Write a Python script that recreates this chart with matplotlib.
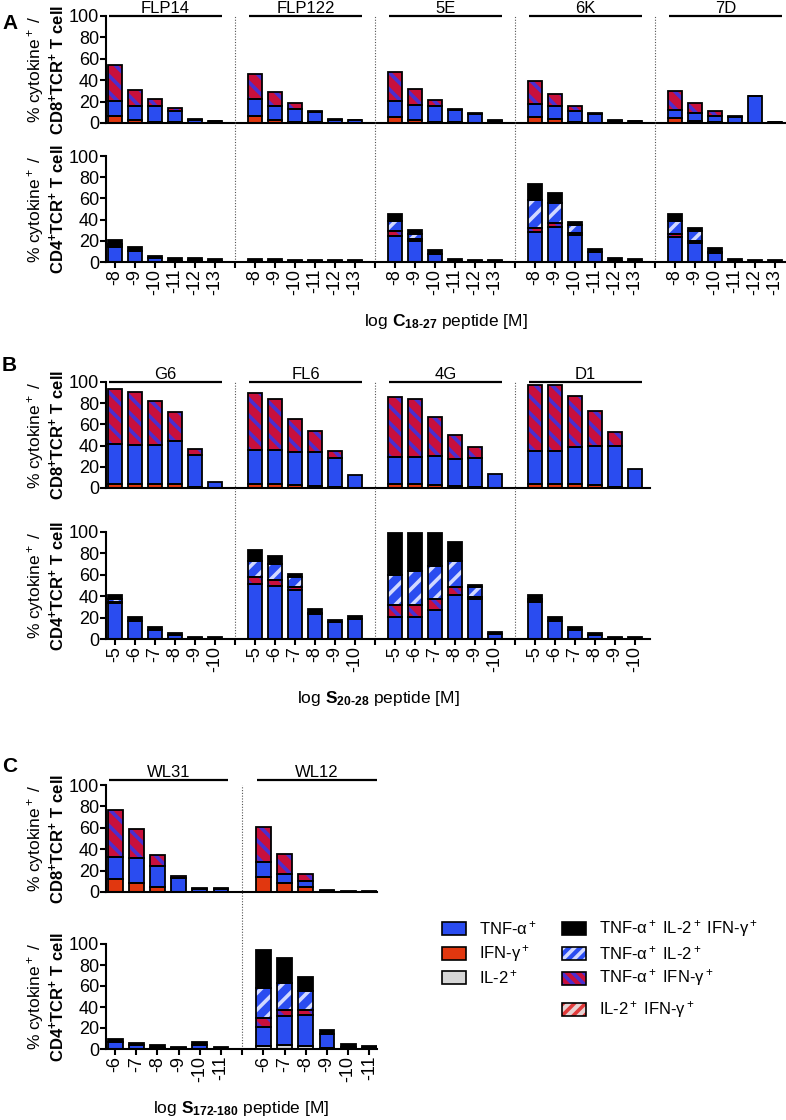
import matplotlib.pyplot as plt
from matplotlib.patches import Rectangle

plt.rcParams['font.family'] = ['Liberation Sans', 'DejaVu Sans']
plt.rcParams['mathtext.fontset'] = 'custom'
plt.rcParams['mathtext.rm'] = 'Liberation Sans'
plt.rcParams['mathtext.it'] = 'Liberation Sans:italic'
plt.rcParams['mathtext.bf'] = 'Liberation Sans:bold'
plt.rcParams['hatch.linewidth'] = 2.6

W, H = 786, 1120
FS = 12
BW = 0.7
LW = 1.3

# ---- panel A: C18-27 peptide ----
a_groups = ["FLP14", "FLP122", "5E", "6K", "7D"]
a_ticks = ["-8", "-9", "-10", "-11", "-12", "-13"]
a_cd8_ifn = [7, 3, 1, 0.5, 0, 0,  7, 3, 1, 0.5, 0, 0,  5.5, 2.5, 1, 0.5, 0, 0,
             6, 3.5, 1, 0, 0, 0,  4.5, 2, 1, 0, 0, 0]
a_cd8_tnf = [14, 12.5, 14.5, 10.5, 3, 2,  15.5, 13, 12, 10, 3, 2.5,  15.5, 14, 14.5, 12, 8, 2,
             12, 12.5, 10.5, 8.5, 2, 1.5,  8, 7, 6, 5.5, 25, 1]
a_cd8_tnf_ifn = [33, 15, 7, 3, 0.7, 0.2,  23.5, 13, 5.5, 0.5, 0.7, 0.5,  27, 15, 6, 0.5, 1, 0.5,
                 21, 11, 4.5, 0.8, 0.8, 0.4,  17, 9.5, 4, 1, 0.5, 0.2]
a_cd4_tnf = [14, 10, 3.5, 1, 1, 1,  0.5, 0.5, 0.5, 0.5, 0.5, 0.5,  25, 20, 7.5, 1, 0.5, 0.5,
             28, 33, 25.5, 9, 1, 0.5,  23.5, 18, 8.5, 0.5, 0.3, 0.3]
a_cd4_tnf_ifn = [1, 0.3, 0, 0, 0.5, 0,  0, 0, 0, 0, 0, 0,  4, 1.5, 0, 0, 0, 0,
                 4.5, 3.5, 1.5, 0, 0, 0,  3, 2, 0.3, 0, 0, 0]
a_cd4_tnf_il2 = [2, 0.5, 0, 0, 0, 0,  0, 0, 0, 0, 0, 0,  10, 5, 0.3, 0, 0, 0,
                 26, 19, 7.5, 0.3, 0, 0,  12, 9, 1, 0, 0, 0]
a_cd4_triple = [4, 3.5, 2, 2.4, 2, 2,  2.5, 2.5, 1.7, 1.4, 1.4, 1.1,  6.5, 3.5, 3.5, 2, 1.7, 1.7,
                15.5, 9.5, 3, 3, 2.8, 2,  7, 2.7, 3.5, 2.3, 1.6, 1.3]

# ---- panel B: S20-28 peptide ----
b_groups = ["G6", "FL6", "4G", "D1"]
b_ticks = ["-5", "-6", "-7", "-8", "-9", "-10"]
b_cd8_ifn = [4, 4, 4, 3.5, 0.5, 0,  4, 4, 3, 1.5, 0.5, 0,  4, 4, 3, 1.5, 0.5, 0,  4, 4, 3.5, 2.5, 0.5, 0]
b_cd8_tnf = [37.5, 36.5, 37, 41, 30.5, 6,  32, 32, 30.7, 32, 28, 12,
             25.7, 25.7, 27.6, 26, 28, 13.5,  31.3, 31.3, 35, 37, 39.5, 18]
b_cd8_tnf_ifn = [51.5, 50.5, 41, 27, 5.5, 0,  53.7, 48, 31, 20.3, 6.3, 0,
                 56.3, 54.3, 36.4, 22.2, 10.3, 0,  62.2, 62.2, 48, 33, 12.5, 0]
b_cd4_tnf = [34, 16.5, 8.7, 4, 0.5, 0.3,  51.5, 50, 46, 23.7, 15.6, 18.7,
             21, 21, 27.5, 41, 37.5, 4.7,  34.5, 16.5, 8.7, 4, 0.5, 0.3]
b_cd4_tnf_ifn = [1, 0, 0, 0, 0, 0,  6, 5, 3, 0, 0, 0,  11, 11, 10, 8, 2, 0,  1, 0, 0, 0, 0, 0]
b_cd4_tnf_il2 = [2, 0, 0, 0, 0, 0,  15, 15, 8.5, 0.5, 0, 0,  28, 32, 30.5, 23.5, 9, 0,  2, 0, 0, 0, 0, 0]
b_cd4_triple = [4.5, 3.7, 2.5, 2, 1.7, 1.3,  10.5, 7.3, 3.5, 3.8, 2.2, 2.8,
                39, 35, 31, 17.8, 2.3, 1.8,  4, 3.7, 2.3, 1.6, 1.7, 1.3]

# ---- panel C: S172-180 peptide ----
c_groups = ["WL31", "WL12"]
c_ticks = ["-6", "-7", "-8", "-9", "-10", "-11"]
c_cd8_ifn = [12, 8.5, 4.5, 0.3, 0, 0,  14, 8.4, 4.7, 0, 0, 0]
c_cd8_tnf = [20.5, 23.5, 20, 13, 3, 3,  14, 8.6, 5.3, 1, 0.3, 0.3]
c_cd8_tnf_ifn = [44, 27.3, 9.7, 1.5, 0.3, 0.3,  33.2, 18.7, 7, 0.9, 0.3, 0.3]
c_cd4_il2 = [0, 0, 0, 0, 0, 0,  2.5, 4, 2.5, 0.5, 0, 0]
c_cd4_tnf = [6.3, 4, 1, 0.5, 4, 0.4,  18.5, 27, 29.5, 13.6, 2, 0.5]
c_cd4_tnf_ifn = [0, 0, 0, 0, 0, 0,  8.4, 6.3, 5.3, 0, 0, 0]
c_cd4_tnf_il2 = [0, 0, 0, 0, 0, 0,  28.5, 25.4, 18, 0, 0, 0]
c_cd4_triple = [3.2, 2, 2.5, 1.7, 2.3, 1.2,  36.4, 23.7, 13, 4, 2.7, 2.7]

STYLES = {
    'tnf': dict(fc='#2a4cf0', label='TNF-α$^+$'),
    'ifn': dict(fc='#e1370f', label='IFN-γ$^+$'),
    'il2': dict(fc='#d6d6d6', label='IL-2$^+$'),
    'triple': dict(fc='black', label='TNF-α$^+$ IL-2$^+$ IFN-γ$^+$'),
    'tnf_il2': dict(fc='#2a4cf0', hc='#d2d9ff', hatch='//', label='TNF-α$^+$ IL-2$^+$'),
    'tnf_ifn': dict(fc='#c8103c', hc='#4a2fd0', hatch='\\\\', label='TNF-α$^+$ IFN-γ$^+$'),
    'il2_ifn': dict(fc='#e6d3d3', hc='#e03a3a', hatch='//', label='IL-2$^+$ IFN-γ$^+$'),
}
ORDER = ['il2', 'ifn', 'tnf', 'il2_ifn', 'tnf_ifn', 'tnf_il2', 'triple']

fig = plt.figure(figsize=(W / 100, H / 100), dpi=100)


def fr(l, t, r, b):
    return [l / W, 1 - b / H, (r - l) / W, (b - t) / H]


def draw_stack(ax, x, series):
    bottom = [0.0] * len(x)
    outlines = []
    for key in ORDER:
        if key not in series:
            continue
        vals = series[key]
        st = STYLES[key]
        xs = [xi for xi, v in zip(x, vals) if v > 0]
        hs = [v for v in vals if v > 0]
        bs = [b for b, v in zip(bottom, vals) if v > 0]
        if 'hatch' in st:
            ax.bar(xs, hs, bottom=bs, width=BW, color=st['fc'], edgecolor=st['hc'],
                   hatch=st['hatch'], linewidth=0)
        else:
            ax.bar(xs, hs, bottom=bs, width=BW, color=st['fc'], linewidth=0)
        outlines.append((xs, hs, bs))
        bottom = [b + v for b, v in zip(bottom, vals)]
    for xs, hs, bs in outlines:
        ax.bar(xs, hs, bottom=bs, width=BW, fill=False, edgecolor='black', linewidth=LW)


def panel(lp, rp, t8, b8, t4, b4, xlim, groups, ticks, cd8, cd4, xlabel, letter, letter_y, lift=0):
    n = len(groups)
    x = [g * 7 + i for g in range(n) for i in range(6)]
    seps = [g * 7 + 6 for g in range(n - 1)]
    ax8 = fig.add_axes(fr(lp, t8, rp, b8))
    ax4 = fig.add_axes(fr(lp, t4, rp, b4))
    for ax in (ax8, ax4):
        ax.set_xlim(*xlim)
        ax.set_ylim(0, 100)
        ax.set_yticks([0, 20, 40, 60, 80, 100])
        ax.spines['top'].set_visible(False)
        ax.spines['right'].set_visible(False)
        ax.spines['left'].set_linewidth(1.5)
        ax.spines['bottom'].set_linewidth(1.5)
        ax.tick_params(direction='out', length=4, width=1.5, labelsize=13, pad=1)
    draw_stack(ax8, x, cd8)
    draw_stack(ax4, x, cd4)
    ax8.tick_params(axis='x', bottom=False, labelbottom=False)
    slots = list(range(n * 7 - 1))
    labels = [ticks[s % 7] if s % 7 < 6 else '' for s in slots]
    ax4.set_xticks(slots)
    ax4.set_xticklabels(labels, rotation=90)

    for g, name in enumerate(groups):
        x0, x1 = g * 7 - 0.3, g * 7 + 5.35
        ax8.plot([x0, x1], [100 + lift, 100 + lift], color='black', lw=1.6,
                 clip_on=False, solid_capstyle='butt')
        ax8.annotate(name, ((x0 + x1) / 2, 100 + lift), xytext=(0, 2),
                     textcoords='offset points', ha='center', va='baseline',
                     fontsize=FS, annotation_clip=False)

    ytop = (b4 - t8) / (b4 - t4) * 100
    for s in seps:
        ax4.plot([s, s], [0, ytop], ls=(0, (1, 1.5)), color='#555555', lw=0.8, clip_on=False)

    for t, b, cell in ((t8, b8, 'CD8'), (t4, b4, 'CD4')):
        yc = 1 - (t + b) / 2 / H
        fig.text(35 / W, yc, '% cytokine$^+$ /', rotation=90, ha='center', va='center', fontsize=12.5)
        fig.text(57 / W, yc, cell + r'$^{\mathbf{+}}$TCR$^{\mathbf{+}}$ T cell', rotation=90,
                 ha='center', va='center', fontsize=12, fontweight='bold')

    fig.text((lp + rp) / 2 / W, 1 - (b4 + 64) / H, xlabel, ha='center', va='baseline', fontsize=12.5)
    fig.text(2 / W, 1 - letter_y / H, letter, fontsize=15, fontweight='bold', va='baseline')


panel(106, 786, 16, 123, 156, 262, (-0.45, 33.55), a_groups, a_ticks,
      {'ifn': a_cd8_ifn, 'tnf': a_cd8_tnf, 'tnf_ifn': a_cd8_tnf_ifn},
      {'tnf': a_cd4_tnf, 'tnf_ifn': a_cd4_tnf_ifn, 'tnf_il2': a_cd4_tnf_il2, 'triple': a_cd4_triple},
      'log $\\mathbf{C_{18\u201027}}$ peptide [M]', 'A', 29)

panel(106, 650, 382, 488, 532, 639, (-0.45, 26.75), b_groups, b_ticks,
      {'ifn': b_cd8_ifn, 'tnf': b_cd8_tnf, 'tnf_ifn': b_cd8_tnf_ifn},
      {'tnf': b_cd4_tnf, 'tnf_ifn': b_cd4_tnf_ifn, 'tnf_il2': b_cd4_tnf_il2, 'triple': b_cd4_triple},
      'log $\\mathbf{S_{20\u201028}}$ peptide [M]', 'B', 371)

panel(106, 377, 785, 892, 944, 1049, (-0.43, 12.36), c_groups, c_ticks,
      {'ifn': c_cd8_ifn, 'tnf': c_cd8_tnf, 'tnf_ifn': c_cd8_tnf_ifn},
      {'il2': c_cd4_il2, 'tnf': c_cd4_tnf, 'tnf_ifn': c_cd4_tnf_ifn, 'tnf_il2': c_cd4_tnf_il2,
       'triple': c_cd4_triple},
      'log $\\mathbf{S_{172\u2010180}}$ peptide [M]', 'C', 772, lift=4.7)

# legend, drawn by hand so the hatch keeps its own colour
legend_items = [(442, 928, 'tnf'), (442, 953, 'ifn'), (442, 977, 'il2'),
                (562, 928, 'triple'), (562, 953, 'tnf_il2'), (562, 978, 'tnf_ifn'),
                (562, 1009, 'il2_ifn')]
for xl, yc, key in legend_items:
    st = STYLES[key]
    box = (xl / W, 1 - (yc + 6.5) / H)
    if 'hatch' in st:
        fig.add_artist(Rectangle(box, 24 / W, 13 / H, transform=fig.transFigure,
                                 facecolor=st['fc'], edgecolor=st['hc'], hatch=st['hatch'] + st['hatch'][0],
                                 linewidth=0))
    else:
        fig.add_artist(Rectangle(box, 24 / W, 13 / H, transform=fig.transFigure,
                                 facecolor=st['fc'], linewidth=0))
    fig.add_artist(Rectangle(box, 24 / W, 13 / H, transform=fig.transFigure,
                             fill=False, edgecolor='black', linewidth=1.2))
    fig.text((xl + 37) / W, 1 - yc / H, st['label'], va='center', fontsize=FS)

fig.savefig('out.png', dpi=100)
